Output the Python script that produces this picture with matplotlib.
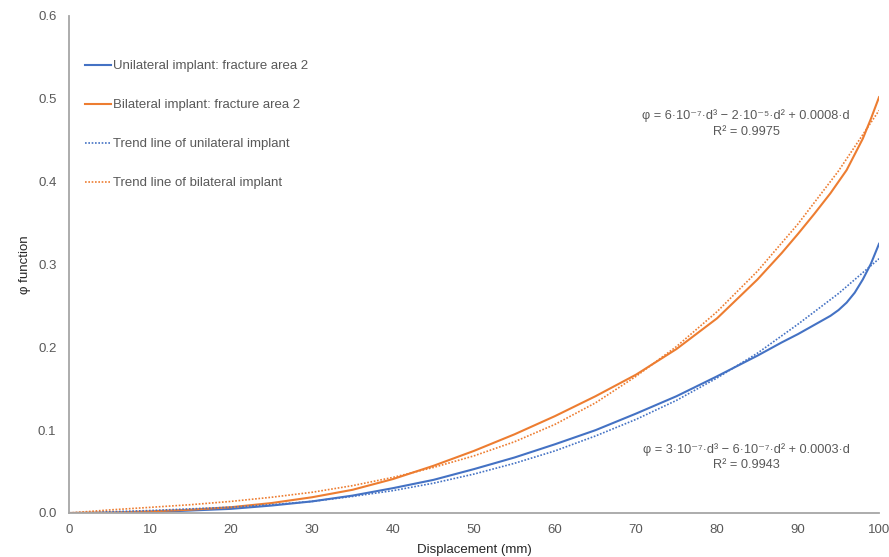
import numpy as np
import matplotlib
matplotlib.use("Agg")
import matplotlib.pyplot as plt
from matplotlib.ticker import FormatStrFormatter

plt.rcParams['font.family'] = ['Liberation Sans', 'DejaVu Sans']

# displacement (mm) and phi values
d_uni = [0, 5, 10, 15, 20, 25, 30, 35, 40, 45, 50, 55, 60, 65, 70, 75, 80,
         85, 88, 90, 92, 94, 95, 96, 97, 98, 99, 100]
phi_uni = [0, 0.0003, 0.001, 0.003, 0.005, 0.009, 0.014, 0.021, 0.030, 0.040,
           0.053, 0.067, 0.083, 0.100, 0.120, 0.141, 0.165, 0.190, 0.206,
           0.216, 0.227, 0.238, 0.245, 0.254, 0.266, 0.282, 0.301, 0.325]

d_bi = [0, 5, 10, 15, 20, 25, 30, 35, 40, 45, 50, 55, 60, 65, 70, 75, 80,
        85, 88, 90, 92, 94, 96, 98, 99, 100]
phi_bi = [0, 0.0005, 0.002, 0.004, 0.007, 0.012, 0.019, 0.028, 0.041, 0.057,
          0.075, 0.095, 0.117, 0.141, 0.167, 0.198, 0.235, 0.282, 0.314,
          0.337, 0.361, 0.386, 0.414, 0.452, 0.476, 0.502]

d_trend = [0, 5, 10, 15, 20, 25, 30, 35, 40, 45, 50, 55, 60, 65, 70, 75, 80,
           85, 90, 95, 100]
trend_uni = [0, 0.0015, 0.003, 0.005, 0.007, 0.010, 0.014, 0.020, 0.027,
             0.036, 0.047, 0.060, 0.075, 0.093, 0.113, 0.136, 0.163, 0.193,
             0.228, 0.265, 0.307]
trend_bi = [0, 0.0037, 0.0068, 0.010, 0.014, 0.019, 0.025, 0.033, 0.043,
            0.055, 0.069, 0.086, 0.107, 0.133, 0.165, 0.201, 0.243, 0.292,
            0.349, 0.413, 0.486]

labels = ['Unilateral implant: fracture area 2',
          'Bilateral implant: fracture area 2',
          'Trend line of unilateral implant',
          'Trend line of bilateral implant']
eq_bi = 'φ = 6·10⁻⁷·d³ − 2·10⁻⁵·d² + 0.0008·d\nR² = 0.9975'
eq_uni = 'φ = 3·10⁻⁷·d³ − 6·10⁻⁷·d² + 0.0003·d\nR² = 0.9943'

blue = '#4472C4'
orange = '#ED7D31'
grey = '#595959'

fig = plt.figure(figsize=(8.89, 5.57), dpi=100)
ax = fig.add_axes([0.0776, 0.079, 0.9112, 0.8923])

ax.plot(d_uni, phi_uni, color=blue, lw=1.5, label=labels[0])
ax.plot(d_bi, phi_bi, color=orange, lw=1.5, label=labels[1])
ax.plot(d_trend, trend_uni, color=blue, lw=1.2, ls=(0, (1, 1)), label=labels[2])
ax.plot(d_trend, trend_bi, color=orange, lw=1.2, ls=(0, (1, 1)), label=labels[3])

ax.set_xlim(0, 100)
ax.set_ylim(0, 0.6)
ax.set_xticks(np.arange(0, 101, 10))
ax.set_yticks(np.arange(0, 0.61, 0.1))
ax.yaxis.set_major_formatter(FormatStrFormatter('%.1f'))
ax.tick_params(length=0, labelsize=9.5, colors=grey)
ax.tick_params(axis='y', pad=9)
ax.tick_params(axis='x', pad=8)

for s in ['top', 'right']:
    ax.spines[s].set_visible(False)
for s in ['left', 'bottom']:
    ax.spines[s].set_color('#A6A6A6')
    ax.spines[s].set_linewidth(1.3)

ax.set_xlabel('Displacement (mm)', fontsize=9.5, color='#262626', labelpad=6)
ax.set_ylabel('φ function', fontsize=9.5, color='#262626', labelpad=5)

ax.text(83.6, 0.470, eq_bi, ha='center', va='center', fontsize=9.2,
        color=grey, linespacing=1.4)
ax.text(83.6, 0.0676, eq_uni, ha='center', va='center', fontsize=9.2,
        color=grey, linespacing=1.4)

leg = ax.legend(loc='upper left', bbox_to_anchor=(0.005, 0.935), frameon=False,
                fontsize=9.5, handlelength=2.0, handletextpad=0.15,
                labelspacing=2.03)
for t in leg.get_texts():
    t.set_color(grey)

fig.savefig('out.png', dpi=100)
